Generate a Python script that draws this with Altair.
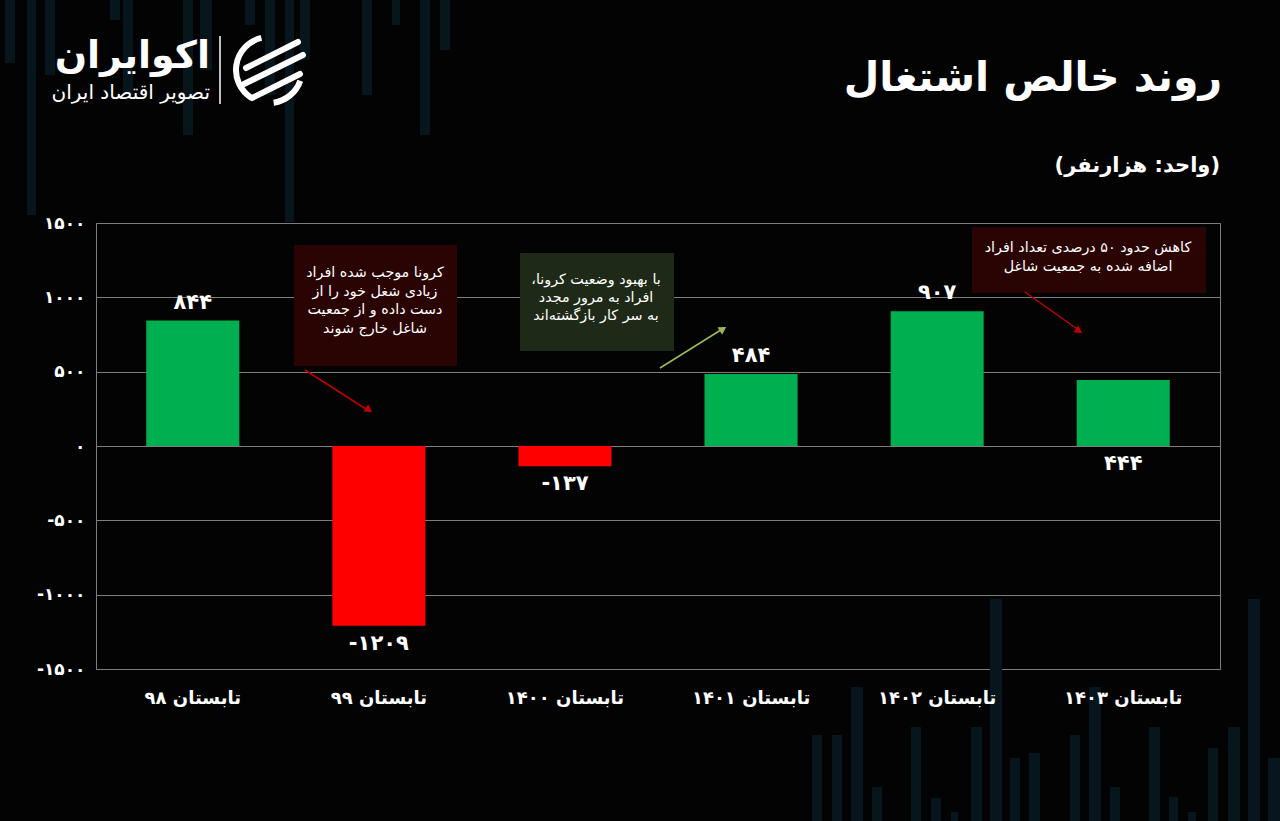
import altair as alt
import pandas as pd

# ---------------- data ----------------
periods = ["تابستان ۹۸", "تابستان ۹۹", "تابستان ۱۴۰۰", "تابستان ۱۴۰۱", "تابستان ۱۴۰۲", "تابستان ۱۴۰۳"]
values = [844, -1209, -137, 484, 907, 444]
label_place = ["end", "end", "end", "end", "end", "base"]
y_ticks = [-1500, -1000, -500, 0, 500, 1000, 1500]

title_text = "روند خالص اشتغال"
unit_text = "\u200f(واحد: هزارنفر)\u200f"
note1 = ["کرونا موجب شده افراد", "زیادی شغل خود را از", "دست داده و از جمعیت", "شاغل خارج شوند"]
note2 = ["با بهبود وضعیت کرونا،\u200f", "افراد به مرور مجدد", "به سر کار بازگشته‌اند"]
note3 = ["کاهش حدود ۵۰ درصدی تعداد افراد", "اضافه شده به جمعیت شاغل"]
logo_name = "اکوایران"
logo_tag = "تصویر اقتصاد ایران"

# decorative background strips (absolute pixel boxes: x1, width, y1, y2)
deco_x1 = [5, 27, 45, 110, 123, 183, 200, 245, 265, 285, 300, 362, 392, 420, 440,
           812, 832, 851, 872, 911, 931, 951, 971, 990, 1010, 1029, 1070, 1089, 1110,
           1149, 1169, 1188, 1208, 1228, 1248, 1268]
deco_w = [10, 9, 10, 10, 10, 10, 12, 10, 10, 9, 10, 10, 8, 10, 10,
          10, 10, 12, 10, 10, 10, 7, 11, 12, 10, 11, 10, 12, 10,
          11, 9, 8, 10, 12, 12, 12]
deco_y1 = [0] * 15 + [735, 735, 687, 787, 727, 798, 812, 727, 599, 758, 753, 735, 687, 787,
                      727, 797, 812, 748, 727, 599, 758]
deco_y2 = [63, 215, 75, 20, 95, 135, 70, 25, 95, 222, 60, 95, 25, 135, 50] + [821] * 21

FA = str.maketrans("0123456789", "۰۱۲۳۴۵۶۷۸۹")


def fa(n):
    return str(n).translate(FA)


FONT = "DejaVu Sans"
GRID = "#7d7d7d"
PL, PT = 96, 223  # plot origin in the page
W, H = 1124, 446

df = pd.DataFrame({"period": periods, "value": values,
                   "label": [fa(v) for v in values], "place": label_place})

label_expr = " : ".join(f"datum.value == {t} ? '{fa(t)}'" for t in y_ticks) + " : ''"

X = alt.X("period:N", sort=periods,
          scale=alt.Scale(paddingInner=0.5, paddingOuter=0.27),
          axis=alt.Axis(title=None, labelAngle=0, labelFontSize=18, labelFont=FONT,
                        labelFontWeight="bold", labelColor="white", labelPadding=20,
                        domain=False, ticks=False, zindex=2))


def Y(field):
    return alt.Y(field, scale=alt.Scale(domain=[-1500, 1500], nice=False, zero=False),
                 axis=alt.Axis(title=None, values=y_ticks, labelExpr=label_expr, grid=True,
                               gridColor=GRID, gridWidth=1, domain=False, ticks=False,
                               labelPadding=11, labelFontSize=17, labelFont=FONT,
                               labelFontWeight="bold", labelColor="white"))


bars = alt.Chart(df).mark_bar().encode(
    x=X, y=Y("value:Q"),
    color=alt.condition("datum.value > 0", alt.value("#00b050"), alt.value("#ff0000")),
)

lab_base = alt.Chart(df).transform_calculate(
    anchor="datum.place == 'base' ? 0 : datum.value",
    side="(datum.value > 0 && datum.place == 'end') ? 'above' : 'below'",
)
labels_above = lab_base.transform_filter("datum.side == 'above'").mark_text(
    baseline="middle", dy=-18, fontSize=21, font=FONT, fontWeight="bold", color="white"
).encode(x=X, y=Y("anchor:Q"), text="label:N")
labels_below = lab_base.transform_filter("datum.side == 'below'").mark_text(
    baseline="middle", dy=18, fontSize=21, font=FONT, fontWeight="bold", color="white"
).encode(x=X, y=Y("anchor:Q"), text="label:N")

main = alt.layer(bars, labels_above, labels_below)

# decorative strips
deco_df = pd.DataFrame({"x1": deco_x1, "w": deco_w, "y1": deco_y1, "y2": deco_y2})
deco = alt.Chart(deco_df).transform_calculate(
    a=f"datum.x1 - {PL}", b=f"datum.x1 + datum.w - {PL}",
    c=f"datum.y1 - {PT}", d=f"datum.y2 - {PT}",
).mark_rect(color="#07161c").encode(
    x=alt.X("a:Q", scale=None, axis=None), x2="b:Q",
    y=alt.Y("c:Q", scale=None, axis=None), y2="d:Q",
)

ONE = alt.Data(values=[{"k": 1}])


def rect(x1, y1, x2, y2, color):
    return alt.Chart(ONE).mark_rect(color=color).encode(
        x=alt.value(x1 - PL), x2=alt.value(x2 - PL),
        y=alt.value(y1 - PT), y2=alt.value(y2 - PT))


def rule(x1, y1, x2, y2, color, width=1.5, cap="butt"):
    return alt.Chart(ONE).mark_rule(color=color, strokeWidth=width, strokeCap=cap).encode(
        x=alt.value(x1 - PL), x2=alt.value(x2 - PL),
        y=alt.value(y1 - PT), y2=alt.value(y2 - PT))


def head(x, y, angle, color):
    return alt.Chart(ONE).mark_point(shape="triangle-up", filled=True, size=75,
                                     color=color, opacity=1, angle=angle).encode(
        x=alt.value(x - PL), y=alt.value(y - PT))


def text(t, x, y, size, align="center", weight="normal", baseline="middle", lh=None):
    kw = dict(align=align, baseline=baseline, fontSize=size, font=FONT,
              fontWeight=weight, color="white")
    if lh is not None:
        kw["lineHeight"] = lh
    return alt.Chart(ONE).mark_text(**kw).encode(
        x=alt.value(x - PL), y=alt.value(y - PT), text=alt.value(t))


def arc(cx, cy, r1, r2, t1, t2):
    return alt.Chart(ONE).mark_arc(color="white").encode(
        x=alt.value(cx - PL), y=alt.value(cy - PT),
        radius=alt.value(r1), radius2=alt.value(r2),
        theta=alt.value(t1), theta2=alt.value(t2))


RED_BOX = "#2a0303"
GREEN_BOX = "#1e2a17"
NOTE_SIZE = 14.3

annos = [
    rect(294, 245, 457, 366, RED_BOX),
    text(note1, 375, 266, NOTE_SIZE, baseline="top", lh=18.7),
    rect(520, 253, 674, 351, GREEN_BOX),
    text(note2, 596, 273, NOTE_SIZE, baseline="top", lh=18),
    rect(972, 227, 1206, 293, RED_BOX),
    text(note3, 1088, 241, NOTE_SIZE, baseline="top", lh=19),
    rule(305, 370, 369, 411, "#c00000"),
    head(369, 410, 122.7, "#c00000"),
    rule(660, 368, 724, 328, "#9bbb59"),
    head(723, 329, 58, "#9bbb59"),
    rule(1025, 292, 1080, 331, "#c00000"),
    head(1079, 331, 125.9, "#c00000"),
    # titles
    text(title_text, 1222, 79, 41, align="right", weight="bold"),
    text(unit_text, 1220, 166, 21, align="right", weight="bold"),
    # logo
    text(logo_name, 210, 57, 38, align="right", weight="bold"),
    text(logo_tag, 210, 93, 20, align="right"),
    rule(220, 36, 220, 104, "white", 1.5),
    arc(269, 70, 36, 30, 3.7, 6.05),
    arc(269, 70, 36, 30, 1.9, 3.0),
    rule(246, 68, 298, 42, "white", 6, "round"),
    rule(244, 84, 303, 55, "white", 6, "round"),
    rule(252, 98, 300, 74, "white", 6, "round"),
]

chart = alt.layer(deco, main, *annos).resolve_scale(
    x="independent", y="independent"
).properties(
    width=W, height=H,
    autosize=alt.AutoSizeParams(type="none"),
    padding={"left": PL, "top": PT, "right": 1280 - PL - W, "bottom": 821 - PT - H},
).configure(background="#030303").configure_view(stroke=GRID, strokeWidth=1)

chart.save("out.html", embed_options={"renderer": "svg", "actions": False})
